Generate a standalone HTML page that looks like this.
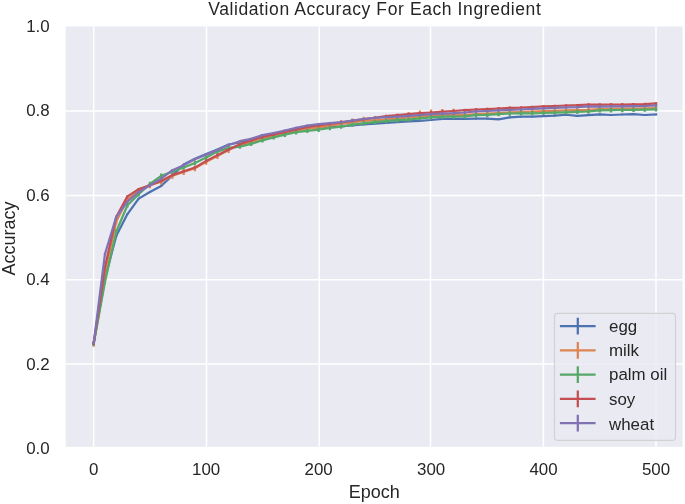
<!DOCTYPE html>
<html lang="en"><head><meta charset="utf-8"><title>Validation Accuracy For Each Ingredient</title>
<style>html,body{margin:0;padding:0;background:#fff;overflow:hidden}svg{display:block}text{font-family:'Liberation Sans', Arial, sans-serif;fill:#262626}</style></head><body>
<svg width="685" height="504" viewBox="0 0 685 504">
<rect x="0" y="0" width="685" height="504" fill="#ffffff"/>
<rect x="65.70" y="26.50" width="616.90" height="420.35" fill="#eaeaf2"/>
<g stroke="#ffffff" stroke-width="1.5" fill="none">
<line x1="93.70" y1="26.50" x2="93.70" y2="446.85"/>
<line x1="206.50" y1="26.50" x2="206.50" y2="446.85"/>
<line x1="319.20" y1="26.50" x2="319.20" y2="446.85"/>
<line x1="430.50" y1="26.50" x2="430.50" y2="446.85"/>
<line x1="543.40" y1="26.50" x2="543.40" y2="446.85"/>
<line x1="656.00" y1="26.50" x2="656.00" y2="446.85"/>
<line x1="65.70" y1="111.00" x2="682.60" y2="111.00"/>
<line x1="65.70" y1="195.40" x2="682.60" y2="195.40"/>
<line x1="65.70" y1="279.70" x2="682.60" y2="279.70"/>
<line x1="65.70" y1="364.10" x2="682.60" y2="364.10"/>
</g>
<g fill="none" stroke-width="2.25" stroke-linejoin="round" stroke-linecap="butt">
<g stroke="#4c72b0"><polyline points="93.70,343.50 104.95,278.50 116.19,236.10 127.44,214.05 138.68,198.60 149.93,192.00 161.18,185.90 172.42,175.50 183.67,164.60 194.91,158.70 206.16,154.00 217.41,149.50 228.65,144.50 239.90,142.50 251.14,139.50 262.39,136.50 273.64,134.00 284.88,132.00 296.13,130.00 307.37,128.50 318.62,127.50 329.87,126.50 341.11,126.30 352.36,125.50 363.60,124.50 374.85,123.60 386.10,122.90 397.34,122.20 408.59,121.40 419.83,120.80 431.08,120.00 442.33,118.80 453.57,118.90 464.82,118.90 476.06,118.60 487.31,118.60 498.56,119.30 509.80,117.40 521.05,116.70 532.29,116.70 543.54,116.20 554.79,115.60 566.03,114.75 577.28,115.90 588.52,115.20 599.77,114.40 611.02,115.00 622.26,114.50 633.51,114.20 644.75,115.00 656.00,114.50" stroke-linecap="square"/>
<path d="M93.70 342.70V344.30M104.95 277.70V279.30M116.19 235.30V236.90M127.44 213.25V214.85M138.68 197.80V199.40M149.93 191.20V192.80M161.18 185.10V186.70M172.42 174.70V176.30M183.67 163.80V165.40M194.91 157.90V159.50M206.16 153.20V154.80M217.41 148.70V150.30M228.65 143.70V145.30M239.90 141.70V143.30M251.14 138.70V140.30M262.39 135.70V137.30M273.64 133.20V134.80M284.88 131.20V132.80M296.13 129.20V130.80M307.37 127.70V129.30M318.62 126.70V128.30M329.87 125.70V127.30M341.11 125.50V127.10M352.36 124.70V126.30M363.60 123.70V125.30M374.85 122.80V124.40M386.10 122.10V123.70M397.34 121.40V123.00M408.59 120.60V122.20M419.83 120.00V121.60M431.08 119.20V120.80M442.33 118.00V119.60M453.57 118.10V119.70M464.82 118.10V119.70M476.06 117.80V119.40M487.31 117.80V119.40M498.56 118.50V120.10M509.80 116.60V118.20M521.05 115.90V117.50M532.29 115.90V117.50M543.54 115.40V117.00M554.79 114.80V116.40M566.03 113.95V115.55M577.28 115.10V116.70M588.52 114.40V116.00M599.77 113.60V115.20M611.02 114.20V115.80M622.26 113.70V115.30M633.51 113.40V115.00M644.75 114.20V115.80M656.00 113.70V115.30"/></g>
<g stroke="#dd8452"><polyline points="93.70,343.80 104.95,273.00 116.19,221.40 127.44,199.50 138.68,191.00 149.93,185.30 161.18,181.70 172.42,175.80 183.67,172.00 194.91,168.30 206.16,161.70 217.41,155.90 228.65,150.10 239.90,144.90 251.14,142.50 262.39,139.00 273.64,136.00 284.88,133.50 296.13,130.80 307.37,128.80 318.62,127.40 329.87,125.80 341.11,124.00 352.36,122.50 363.60,121.00 374.85,120.30 386.10,119.40 397.34,118.60 408.59,117.50 419.83,116.40 431.08,115.60 442.33,115.20 453.57,114.80 464.82,114.80 476.06,114.10 487.31,113.60 498.56,113.00 509.80,112.40 521.05,112.00 532.29,111.60 543.54,111.20 554.79,110.80 566.03,110.40 577.28,110.10 588.52,109.80 599.77,109.10 611.02,108.90 622.26,108.70 633.51,108.50 644.75,108.30 656.00,108.10" stroke-linecap="square"/>
<path d="M93.70 341.10V346.80M104.95 270.30V276.00M116.19 218.70V224.40M127.44 196.80V202.50M138.68 188.30V194.00M149.93 182.60V188.30M161.18 179.00V184.70M172.42 173.10V178.80M183.67 169.30V175.00M194.91 165.60V171.30M206.16 158.70V164.70M217.41 152.82V158.90M228.65 146.94V153.10M239.90 141.66V147.90M251.14 139.18V145.50M262.39 135.60V142.00M273.64 132.52V139.00M284.88 129.94V136.50M296.13 127.16V133.80M307.37 125.08V131.80M318.62 123.60V130.40M329.87 121.93V128.80M341.11 120.07V127.00M352.36 118.50V125.50M363.60 116.83V124.00M374.85 115.97V123.30M386.10 114.90V122.40M397.34 113.55V121.60M408.59 111.90V120.50M419.83 110.55V119.40M431.08 109.50V118.60M442.33 109.10V118.20M453.57 108.70V117.80M464.82 108.70V117.80M476.06 108.00V117.10M487.31 107.50V116.60M498.56 106.90V116.00M509.80 106.55V115.40M521.05 106.40V115.00M532.29 106.00V114.60M543.54 105.60V114.20M554.79 105.20V113.80M566.03 104.80V113.40M577.28 104.50V113.10M588.52 104.20V112.80M599.77 103.50V112.10M611.02 103.30V111.90M622.26 103.10V111.70M633.51 102.90V111.50M644.75 102.70V111.30M656.00 102.50V111.10"/></g>
<g stroke="#55a868"><polyline points="93.70,343.50 104.95,282.00 116.19,231.70 127.44,205.20 138.68,194.20 149.93,184.00 161.18,175.80 172.42,171.80 183.67,167.50 194.91,163.00 206.16,157.60 217.41,151.60 228.65,147.90 239.90,146.60 251.14,143.90 262.39,140.30 273.64,137.40 284.88,134.70 296.13,132.20 307.37,130.80 318.62,129.70 329.87,128.00 341.11,126.60 352.36,124.60 363.60,123.30 374.85,122.20 386.10,121.20 397.34,120.20 408.59,119.60 419.83,118.30 431.08,117.30 442.33,116.70 453.57,116.70 464.82,116.30 476.06,115.20 487.31,114.80 498.56,114.05 509.80,113.50 521.05,113.30 532.29,113.30 543.54,113.00 554.79,112.70 566.03,112.30 577.28,111.80 588.52,111.50 599.77,110.40 611.02,110.20 622.26,110.00 633.51,109.80 644.75,109.60 656.00,109.40" stroke-linecap="square"/>
<path d="M93.70 341.30V345.70M104.95 279.80V284.20M116.19 229.50V233.90M127.44 203.00V207.40M138.68 192.00V196.40M149.93 181.80V186.20M161.18 173.60V178.00M172.42 169.60V174.00M183.67 165.30V169.70M194.91 160.80V165.20M206.16 155.40V159.80M217.41 149.40V153.80M228.65 145.70V150.10M239.90 144.40V148.80M251.14 141.70V146.10M262.39 138.10V142.50M273.64 135.20V139.60M284.88 132.50V136.90M296.13 130.00V134.40M307.37 128.60V133.00M318.62 127.50V131.90M329.87 125.80V130.20M341.11 124.40V128.80M352.36 122.40V126.80M363.60 121.10V125.50M374.85 120.00V124.40M386.10 119.00V123.40M397.34 118.00V122.40M408.59 117.40V121.80M419.83 116.10V120.50M431.08 115.10V119.50M442.33 114.50V118.90M453.57 114.50V118.90M464.82 114.10V118.50M476.06 113.00V117.40M487.31 112.60V117.00M498.56 111.85V116.25M509.80 111.30V115.70M521.05 111.10V115.50M532.29 111.10V115.50M543.54 110.80V115.20M554.79 110.50V114.90M566.03 110.10V114.50M577.28 109.60V114.00M588.52 109.30V113.70M599.77 108.20V112.60M611.02 108.00V112.40M622.26 107.80V112.20M633.51 107.60V112.00M644.75 107.40V111.80M656.00 107.20V111.60"/></g>
<g stroke="#c44e52"><polyline points="93.70,343.50 104.95,267.00 116.19,217.00 127.44,196.40 138.68,189.10 149.93,185.20 161.18,181.00 172.42,175.10 183.67,171.30 194.91,167.60 206.16,161.00 217.41,155.20 228.65,149.40 239.90,144.20 251.14,140.50 262.39,137.00 273.64,134.50 284.88,132.00 296.13,129.30 307.37,127.00 318.62,125.40 329.87,124.00 341.11,122.50 352.36,120.80 363.60,119.20 374.85,117.90 386.10,116.00 397.34,115.20 408.59,114.20 419.83,113.20 431.08,112.50 442.33,111.70 453.57,111.00 464.82,110.20 476.06,109.50 487.31,109.10 498.56,108.50 509.80,107.90 521.05,107.60 532.29,107.00 543.54,106.40 554.79,106.00 566.03,105.50 577.28,105.20 588.52,104.50 599.77,104.70 611.02,104.50 622.26,104.50 633.51,104.30 644.75,104.10 656.00,103.50" stroke-linecap="square"/>
<path d="M93.70 342.30V344.70M104.95 265.80V268.20M116.19 215.80V218.20M127.44 195.20V197.60M138.68 187.90V190.30M149.93 184.00V186.40M161.18 179.80V182.20M172.42 173.90V176.30M183.67 170.10V172.50M194.91 166.40V168.80M206.16 159.80V162.20M217.41 154.00V156.40M228.65 148.20V150.60M239.90 143.00V145.40M251.14 139.30V141.70M262.39 135.80V138.20M273.64 133.30V135.70M284.88 130.80V133.20M296.13 128.10V130.50M307.37 125.80V128.20M318.62 124.20V126.60M329.87 122.80V125.20M341.11 121.30V123.70M352.36 119.60V122.00M363.60 118.00V120.40M374.85 116.70V119.10M386.10 114.80V117.20M397.34 114.00V116.40M408.59 113.00V115.40M419.83 112.00V114.40M431.08 111.30V113.70M442.33 110.50V112.90M453.57 109.80V112.20M464.82 109.00V111.40M476.06 108.30V110.70M487.31 107.90V110.30M498.56 107.30V109.70M509.80 106.70V109.10M521.05 106.40V108.80M532.29 105.80V108.20M543.54 105.20V107.60M554.79 104.80V107.20M566.03 104.30V106.70M577.28 104.00V106.40M588.52 103.30V105.70M599.77 103.50V105.90M611.02 103.30V105.70M622.26 103.30V105.70M633.51 103.10V105.50M644.75 102.90V105.30M656.00 102.30V104.70"/></g>
<g stroke="#8172b3"><polyline points="93.70,343.30 104.95,254.00 116.19,217.00 127.44,201.60 138.68,192.00 149.93,185.40 161.18,178.70 172.42,170.20 183.67,165.20 194.91,159.30 206.16,154.60 217.41,150.10 228.65,145.00 239.90,141.20 251.14,138.80 262.39,135.10 273.64,133.00 284.88,130.50 296.13,127.80 307.37,125.60 318.62,124.10 329.87,123.20 341.11,122.20 352.36,120.50 363.60,119.00 374.85,117.80 386.10,117.20 397.34,116.70 408.59,115.80 419.83,115.00 431.08,114.20 442.33,113.60 453.57,113.20 464.82,112.50 476.06,111.40 487.31,111.00 498.56,110.40 509.80,109.80 521.05,109.50 532.29,108.90 543.54,108.30 554.79,107.90 566.03,107.40 577.28,107.10 588.52,106.40 599.77,106.60 611.02,106.40 622.26,106.40 633.51,106.20 644.75,106.00 656.00,105.40" stroke-linecap="square"/>
<path d="M93.70 342.30V344.30M104.95 253.00V255.00M116.19 216.00V218.00M127.44 200.60V202.60M138.68 191.00V193.00M149.93 184.40V186.40M161.18 177.70V179.70M172.42 169.20V171.20M183.67 164.20V166.20M194.91 158.30V160.30M206.16 153.60V155.60M217.41 149.10V151.10M228.65 144.00V146.00M239.90 140.20V142.20M251.14 137.80V139.80M262.39 134.10V136.10M273.64 132.00V134.00M284.88 129.50V131.50M296.13 126.80V128.80M307.37 124.60V126.60M318.62 123.10V125.10M329.87 122.20V124.20M341.11 121.20V123.20M352.36 119.50V121.50M363.60 118.00V120.00M374.85 116.80V118.80M386.10 116.20V118.20M397.34 115.70V117.70M408.59 114.80V116.80M419.83 114.00V116.00M431.08 113.20V115.20M442.33 112.60V114.60M453.57 112.20V114.20M464.82 111.50V113.50M476.06 110.40V112.40M487.31 110.00V112.00M498.56 109.40V111.40M509.80 108.80V110.80M521.05 108.50V110.50M532.29 107.90V109.90M543.54 107.30V109.30M554.79 106.90V108.90M566.03 106.40V108.40M577.28 106.10V108.10M588.52 105.40V107.40M599.77 105.60V107.60M611.02 105.40V107.40M622.26 105.40V107.40M633.51 105.20V107.20M644.75 105.00V107.00M656.00 104.40V106.40"/></g>
</g>
<g font-size="16.90" text-anchor="end">
<text x="49.7" y="31.50">1.0</text>
<text x="49.7" y="116.00">0.8</text>
<text x="49.7" y="200.70">0.6</text>
<text x="49.7" y="285.20">0.4</text>
<text x="49.7" y="369.80">0.2</text>
<text x="49.7" y="454.40">0.0</text>
</g>
<g font-size="16.90" text-anchor="middle">
<text x="93.70" y="475.0">0</text>
<text x="206.16" y="475.0">100</text>
<text x="318.62" y="475.0">200</text>
<text x="431.08" y="475.0">300</text>
<text x="543.54" y="475.0">400</text>
<text x="656.00" y="475.0">500</text>
</g>
<text x="374.3" y="498.2" font-size="18.00" text-anchor="middle">Epoch</text>
<text transform="translate(15.1 238.6) rotate(-90)" font-size="18.00" text-anchor="middle">Accuracy</text>
<text x="208.2" y="15.1" font-size="17.50" textLength="332.6" lengthAdjust="spacing">Validation Accuracy For Each Ingredient</text>
<rect x="554.5" y="313.4" width="121" height="127" rx="3.2" ry="3.2" fill="#eaeaf2" fill-opacity="0.8" stroke="#cccccc" stroke-opacity="0.8" stroke-width="1.2"/>
<path d="M559.9 326.20H595.6M577.8 317.80V334.60" stroke="#4c72b0" stroke-width="2.25" fill="none"/>
<text x="609.0" y="332.20" font-size="16.90">egg</text>
<path d="M559.9 350.42H595.6M577.8 342.02V358.82" stroke="#dd8452" stroke-width="2.25" fill="none"/>
<text x="609.0" y="356.12" font-size="16.90">milk</text>
<path d="M559.9 374.64H595.6M577.8 366.24V383.04" stroke="#55a868" stroke-width="2.25" fill="none"/>
<text x="609.0" y="379.84" font-size="16.90">palm oil</text>
<path d="M559.9 398.86H595.6M577.8 390.46V407.26" stroke="#c44e52" stroke-width="2.25" fill="none"/>
<text x="609.0" y="404.86" font-size="16.90">soy</text>
<path d="M559.9 423.08H595.6M577.8 414.68V431.48" stroke="#8172b3" stroke-width="2.25" fill="none"/>
<text x="609.0" y="429.58" font-size="16.90">wheat</text>
</svg></body></html>
